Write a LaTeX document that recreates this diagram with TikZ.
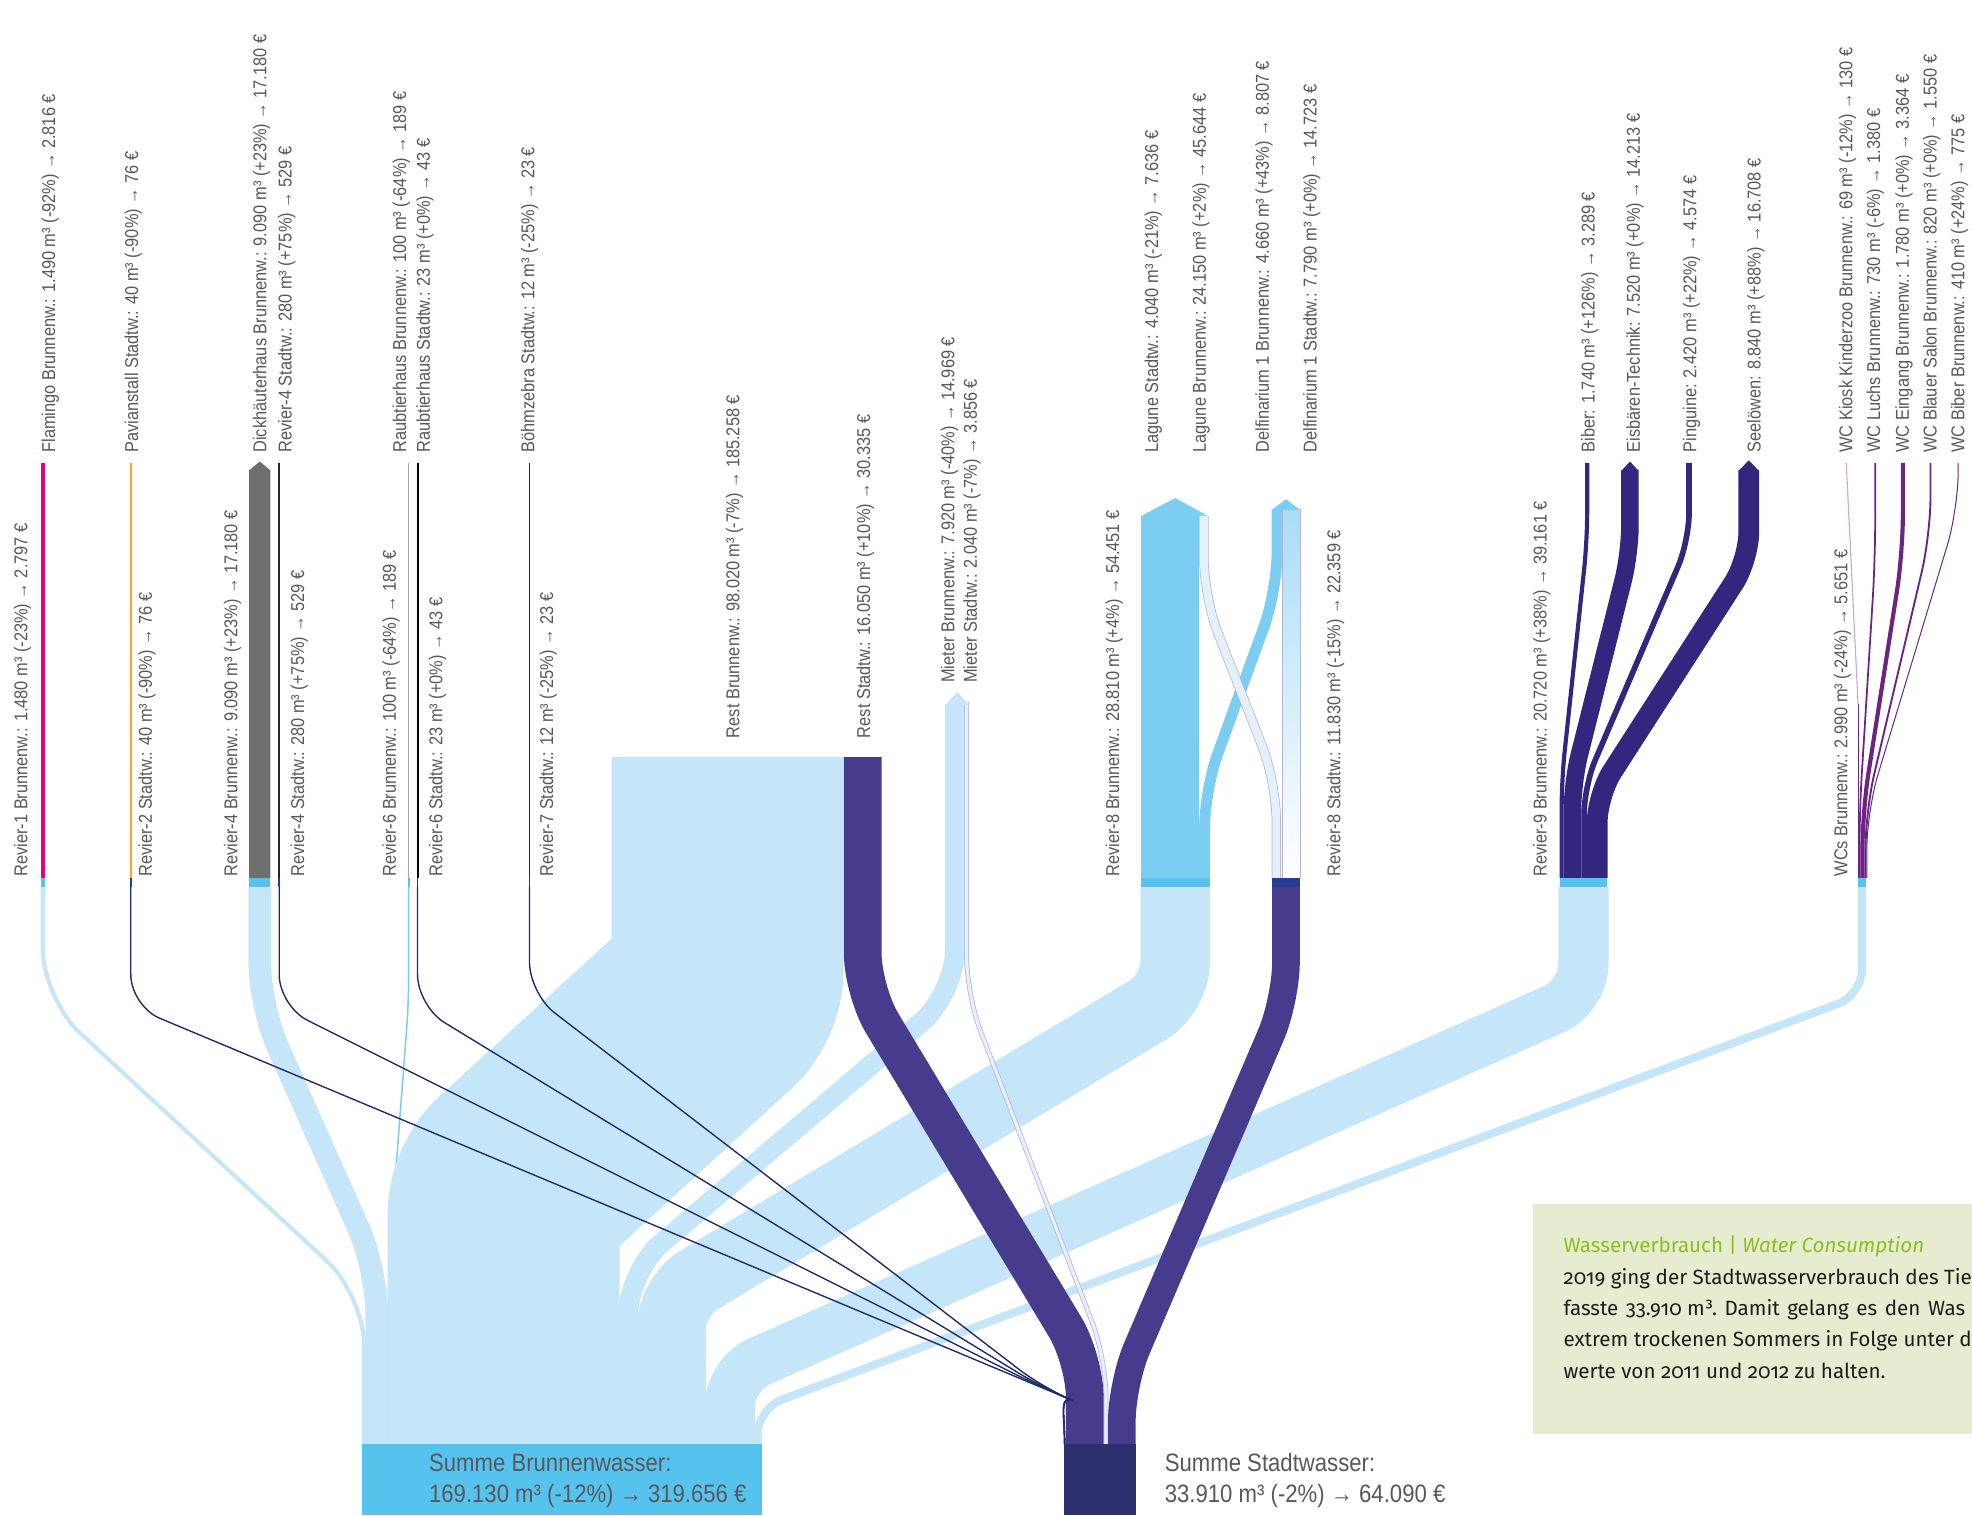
\documentclass[tikz,border=0pt]{standalone}
\usepackage{fontspec}
\newfontfamily\labelfont{Liberation Sans}[FakeStretch=0.88]
\newfontfamily\boxfont{Fira Sans}[Numbers=OldStyle]

\definecolor{brunnenflow}{HTML}{C5E6F8}
\definecolor{brunnennode}{HTML}{56C3EF}
\definecolor{stadtflow}{HTML}{473B8E}
\definecolor{stadtsum}{HTML}{2B2F6C}
\definecolor{stadtnode}{HTML}{233F93}
\definecolor{hairnavy}{HTML}{1F2A6B}
\definecolor{lagunenblau}{HTML}{7CCDF2}
\definecolor{delfhell}{HTML}{A9DDF6}
\definecolor{revierneun}{HTML}{32267F}
\definecolor{wclila}{HTML}{6A2584}
\definecolor{wchell}{HTML}{C9A8D8}
\definecolor{flamingo}{HTML}{E5007E}
\definecolor{pavian}{HTML}{F6A623}
\definecolor{dickhaeuter}{HTML}{6E6E6E}
\definecolor{stripfill}{HTML}{E2F1FB}
\definecolor{stripline}{HTML}{B6B2DA}
\definecolor{labelgrau}{HTML}{58585A}
\definecolor{boxgruen}{HTML}{E5ECCF}
\definecolor{titelgruen}{HTML}{8DBE22}
\definecolor{boxschwarz}{HTML}{1D1D1B}

\begin{document}
\begin{tikzpicture}[
  x=1pt,
  y=-1pt,
  line cap=butt,
  bflow/.style={draw=brunnenflow,line width=#1},
  sflow/.style={draw=stadtflow,line width=#1},
  hair/.style={draw=hairnavy,line width=1.1pt,rounded corners=25pt},
  strip/.style={draw=stripline,line width=0.6pt,double=stripfill,double distance=#1},
  nineflow/.style={draw=revierneun,line width=#1,rounded corners=22pt},
  wcflow/.style={draw=wclila,line width=#1,rounded corners=30pt},
  lbl/.style={font=\labelfont\fontsize{14.8}{17}\selectfont,text=labelgrau,rotate=90,anchor=west,inner sep=0pt},
  sumlbl/.style={font=\labelfont\fontsize{20}{24}\selectfont,text=labelgrau,anchor=base west,inner sep=0pt},
  boxtxt/.style={font=\boxfont\fontsize{16.4}{20}\selectfont,text=boxschwarz,anchor=base west,inner sep=0pt}
]
  % Frame of the artwork.
  \useasboundingbox (0,0) rectangle (1568,1205);

  % Brunnenwasser flows from the Revier nodes down to the sum (a little wider, so no seams).
  \draw[bflow=3.2,rounded corners=40pt] (34,705) -- (34,794) -- (289.5,1030) -- (289.5,1148);
  \draw[bflow=18,rounded corners=35pt] (206.5,705) -- (206.5,800) -- (299.5,1009) -- (299.5,1148);
  \draw[draw=lagunenblau,line width=1.2,rounded corners=20pt] (325,705) -- (325,796) -- (309,1006) -- (309,1148);
  \draw[bflow=184.5,line join=round,rounded corners=15pt] (578.5,602) -- (578.5,787) -- (400.5,950) -- (400.5,1148);
  \draw[bflow=16,rounded corners=35pt] (759.4,560) -- (759.4,790) -- (499.4,1011) -- (499.4,1148);
  \draw[bflow=55.2,line join=round,rounded corners=25pt] (934.5,705) -- (934.5,790) -- (533.8,1031) -- (533.8,1148);
  \draw[bflow=40,line join=round,rounded corners=25pt] (1259,705) -- (1259,792) -- (580.2,1093) -- (580.2,1148);
  \draw[bflow=6.4,rounded corners=20pt] (1480.5,705) -- (1480.5,791) -- (602.6,1120) -- (602.6,1148);

  % Mieter Stadtwasser strip.
  \draw[strip=2.6pt,rounded corners=30pt] (768.6,558) -- (768.6,791) -- (879.4,1080) -- (879.4,1148);

  % Stadtwasser flows.
  \draw[sflow=30,line join=round,rounded corners=30pt] (686,602) -- (686,788) -- (862.5,1081) -- (862.5,1148);
  \draw[sflow=22,line join=round,rounded corners=30pt] (1022.5,705) -- (1022.5,795) -- (892,1100) -- (892,1148);

  % Thin Stadtwasser lines of Revier-2, -4, -6 and -7.
  \foreach \xs/\ys in {104/800,222/800,332/800,421/790} {
    \draw[hair] (\xs,705) -- (\xs,\ys) -- (830,1104) .. controls (842,1109) and (846.5,1124) .. (846.5,1148);
  }

  % Consumers of Revier-1 to Revier-7.
  \fill[flamingo] (32.6,368) rectangle (35.4,698);
  \draw[pavian,line width=1.5] (104,368) -- (104,698);
  \fill[dickhaeuter] (198,698) -- (198,374) -- (206.5,367) -- (215,374) -- (215,698) -- cycle;
  \draw[black!85,line width=1.6] (222,368) -- (222,698);
  \draw[gray!70,line width=1] (325,368) -- (325,698);
  \draw[black,line width=1.6] (332,368) -- (332,698);
  \draw[black!85,line width=1.3] (421,368) -- (421,698);
  \fill[brunnenflow] (752,560.5) -- (761.2,550) -- (770.4,560.5) -- cycle;

  % Revier-8: Lagune and Delfinarium with crossing strips.
  \fill[lagunenblau] (907,410) rectangle (953.5,698);
  \fill[lagunenblau] (907,410.5) -- (934.5,396) -- (961,410.5) -- cycle;
  \draw[draw=lagunenblau,line width=8.7,rounded corners=30pt] (1015.4,405) -- (1015.4,470) -- (957.8,628) -- (957.8,698);
  \shade[top color=delfhell,bottom color=white] (1019.8,405) rectangle (1034,698);
  \draw[stripline,line width=0.6] (1019.8,405) -- (1019.8,698) (1034,405) -- (1034,698);
  \fill[lagunenblau] (1011,405.5) -- (1022.5,397) -- (1034,405.5) -- cycle;
  \draw[strip=6.3pt,rounded corners=30pt] (957.3,410) -- (957.3,475) -- (1014.8,622) -- (1014.8,698);

  % Revier-9 consumers.
  \draw[nineflow=3.3] (1241.7,698) -- (1241.7,620) -- (1262,430) -- (1262,368);
  \draw[nineflow=14] (1250.3,698) -- (1250.3,622) -- (1296,440) -- (1296,374);
  \draw[nineflow=4.5] (1259.6,698) -- (1259.6,625) -- (1343,430) -- (1343,368);
  \draw[nineflow=16.5] (1270,698) -- (1270,632) -- (1390.5,445) -- (1390.5,374);
  \fill[revierneun] (1289,374.5) -- (1296,367) -- (1303,374.5) -- cycle;
  \fill[revierneun] (1382.25,374.5) -- (1390.5,366) -- (1398.75,374.5) -- cycle;

  % WC consumers.
  \draw[draw=wclila,line width=0.8] (1477.4,698) -- (1477.4,560);
  \draw[draw=wchell,line width=0.9] (1477.4,560) -- (1468,368);
  \draw[wcflow=1.4] (1478.5,698) -- (1478.5,645) -- (1491,445) -- (1491,368);
  \draw[wcflow=3.3] (1480.9,698) -- (1480.9,645) -- (1513,440) -- (1513,368);
  \draw[wcflow=1.5] (1483.3,698) -- (1483.3,645) -- (1535,425) -- (1535,368);
  \draw[wcflow=0.8] (1484.4,698) -- (1484.4,645) -- (1557,405) -- (1557,368);

  % Revier nodes.
  \foreach \xa/\xb/\farbe in {32.6/35.4/brunnennode,103.3/104.7/stadtnode,198/215/brunnennode,
      221.2/222.8/stadtnode,324.3/325.7/brunnennode,331.3/332.7/stadtnode,420.3/421.7/stadtnode,
      907/962/brunnennode,1011/1034/stadtnode,1240/1278/brunnennode,1477/1484/brunnennode} {
    \fill[\farbe] (\xa,698) rectangle (\xb,705);
  }

  % Sum nodes.
  \fill[brunnennode] (288,1148) rectangle (606,1205);
  \fill[stadtsum] (846,1148) rectangle (903,1205);
  \node[sumlbl] (sumbrunnen) at (341,1170) {Summe Brunnenwasser:};
  \node[sumlbl] (sumbrunnenwert) at (341,1195) {169.130 m³ (-12\%) → 319.656 €};
  \node[sumlbl] (sumstadt) at (926,1170) {Summe Stadtwasser:};
  \node[sumlbl] (sumstadtwert) at (926,1195) {33.910 m³ (-2\%) → 64.090 €};

  % Labels of the Revier nodes.
  \foreach \nm/\lx/\ly/\txt in {
      revierAb/18/697/{Revier-1 Brunnenw.: 1.480 m³ (-23\%) → 2.797 €},
      revierBs/117/697/{Revier-2 Stadtw.: 40 m³ (-90\%) → 76 €},
      revierDb/185/697/{Revier-4 Brunnenw.: 9.090 m³ (+23\%) → 17.180 €},
      revierDs/238/697/{Revier-4 Stadtw.: 280 m³ (+75\%) → 529 €},
      revierFb/311/697/{Revier-6 Brunnenw.: 100 m³ (-64\%) → 189 €},
      revierFs/348/697/{Revier-6 Stadtw.: 23 m³ (+0\%) → 43 €},
      revierGs/436/697/{Revier-7 Stadtw.: 12 m³ (-25\%) → 23 €},
      restb/584/587/{Rest Brunnenw.: 98.020 m³ (-7\%) → 185.258 €},
      rests/688/587/{Rest Stadtw.: 16.050 m³ (+10\%) → 30.335 €},
      mieterb/755/543/{Mieter Brunnenw.: 7.920 m³ (-40\%) → 14.969 €},
      mieters/773/543/{Mieter Stadtw.: 2.040 m³ (-7\%) → 3.856 €},
      revierHb/886/697/{Revier-8 Brunnenw.: 28.810 m³ (+4\%) → 54.451 €},
      revierHs/1062/697/{Revier-8 Stadtw.: 11.830 m³ (-15\%) → 22.359 €},
      revierIb/1226/697/{Revier-9 Brunnenw.: 20.720 m³ (+38\%) → 39.161 €},
      wcsb/1465/697/{WCs Brunnenw.: 2.990 m³ (-24\%) → 5.651 €}} {
    \node[lbl] (\nm) at (\lx,\ly) {\txt};
  }

  % Labels of the consumers.
  \foreach \nm/\lx/\txt in {
      flamingo/40/{Flamingo Brunnenw.: 1.490 m³ (-92\%) → 2.816 €},
      pavian/106/{Pavianstall Stadtw.: 40 m³ (-90\%) → 76 €},
      dickb/208/{Dickhäuterhaus Brunnenw.: 9.090 m³ (+23\%) → 17.180 €},
      dicks/228/{Revier-4 Stadtw.: 280 m³ (+75\%) → 529 €},
      raubb/319/{Raubtierhaus Brunnenw.: 100 m³ (-64\%) → 189 €},
      raubs/338/{Raubtierhaus Stadtw.: 23 m³ (+0\%) → 43 €},
      zebra/421/{Böhmzebra Stadtw.: 12 m³ (-25\%) → 23 €},
      lagunes/917/{Lagune Stadtw.: 4.040 m³ (-21\%) → 7.636 €},
      laguneb/955/{Lagune Brunnenw.: 24.150 m³ (+2\%) → 45.644 €},
      delfb/1005/{Delfinarium 1 Brunnenw.: 4.660 m³ (+43\%) → 8.807 €},
      delfs/1043/{Delfinarium 1 Stadtw.: 7.790 m³ (+0\%) → 14.723 €},
      biber/1264/{Biber: 1.740 m³ (+126\%) → 3.289 €},
      eisbaer/1300/{Eisbären-Technik: 7.520 m³ (+0\%) → 14.213 €},
      pinguin/1345/{Pinguine: 2.420 m³ (+22\%) → 4.574 €},
      seeloewe/1396/{Seelöwen: 8.840 m³ (+88\%) → 16.708 €},
      wckiosk/1469/{WC Kiosk Kinderzoo Brunnenw.: 69 m³ (-12\%) → 130 €},
      wcluchs/1491/{WC Luchs Brunnenw.: 730 m³ (-6\%) → 1.380 €},
      wceingang/1514/{WC Eingang Brunnenw.: 1.780 m³ (+0\%) → 3.364 €},
      wcsalon/1536/{WC Blauer Salon Brunnenw.: 820 m³ (+0\%) → 1.550 €},
      wcbiber/1558/{WC Biber Brunnenw.: 410 m³ (+24\%) → 775 €}} {
    \node[lbl] (\nm) at (\lx,360) {\txt};
  }

  % Text box.
  \fill[boxgruen] (1219,957) rectangle (1568,1140);
  \node[boxtxt,text=titelgruen] (boxtitel) at (1243,996) {Wasserverbrauch | \textit{Water Consumption}};
  \node[boxtxt] (boxzeileA) at (1243,1021) {2019 ging der Stadtwasserverbrauch des Tier};
  \node[boxtxt] (boxzeileB) at (1243,1046) {fasste\hspace{6pt}33.910 m³.\hspace{6pt}Damit\hspace{6pt}gelang\hspace{6pt}es\hspace{6pt}den\hspace{6pt}Was};
  \node[boxtxt] (boxzeileC) at (1243,1071) {extrem trockenen Sommers in Folge unter d};
  \node[boxtxt] (boxzeileD) at (1243,1096) {werte von 2011 und 2012 zu halten.};
\end{tikzpicture}
\end{document}
